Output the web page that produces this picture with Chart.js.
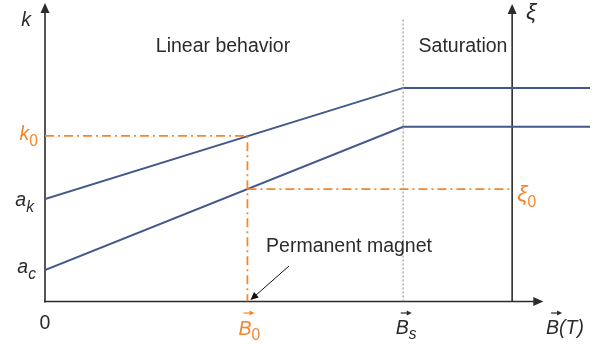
<!DOCTYPE html>
<html>
<head>
<meta charset="utf-8">
<script src="https://cdn.jsdelivr.net/npm/chart.js@4/dist/chart.umd.min.js"></script>
<style>
  html, body { margin: 0; padding: 0; background: #fff; }
  #wrap { width: 606px; height: 345px; }
</style>
</head>
<body>
<div id="wrap"><canvas id="c" width="606" height="345"></canvas></div>
<script>
// Field values B along the horizontal axis
const fieldPoints = [0, 4.6, 7];
// Stiffness-like coefficient k and damping-like coefficient xi vs field
const kCurve = [3.445, 7.18, 7.18];
const xiCurve = [1.06, 5.87, 5.87];
// Operating point and saturation field
const B0 = 2.6;
const Bs = 4.6;
const k0 = 5.57;
const xi0 = 3.78;
// Position of the xi axis along B, and extent of the B axis
const xiAxisAt = 6.0;
const bAxisEnd = 6.4;
// Axis ranges
const xRange = [0, 7];
const yRange = [0, 10];

const BLUE = '#44598a';
const ORANGE = '#f5862a';
const INK = '#2b2b2b';
const FONT = '"Liberation Sans", Arial, Helvetica, sans-serif';

const toPts = (xs, ys) => xs.map((x, i) => ({ x, y: ys[i] }));

// Writes a run of text pieces (normal / italic / subscript) starting at x
function pieceSize(p, size) {
  return (p.size || size) * (p.sub ? 0.8 : 1);
}
function mathWidth(ctx, parts, size) {
  let w = 0;
  for (const p of parts) {
    ctx.font = (p.italic ? 'italic ' : '') + pieceSize(p, size) + 'px ' + FONT;
    w += ctx.measureText(p.t).width + (p.gap || 0);
  }
  return w;
}
function drawMath(ctx, parts, x, y, size, color, align) {
  const w = mathWidth(ctx, parts, size);
  let cx = align === 'right' ? x - w : align === 'center' ? x - w / 2 : x;
  ctx.fillStyle = color;
  ctx.textBaseline = 'alphabetic';
  ctx.textAlign = 'left';
  const spots = [];
  for (const p of parts) {
    ctx.font = (p.italic ? 'italic ' : '') + pieceSize(p, size) + 'px ' + FONT;
    const yy = p.sub ? y + size * 0.3 : y;
    ctx.fillText(p.t, cx, yy);
    const pw = ctx.measureText(p.t).width;
    spots.push({ x: cx, w: pw });
    cx += pw + (p.gap || 0);
  }
  return spots;
}
// Small vector arrow placed above a letter
function vecArrow(ctx, x, y, len, color) {
  ctx.save();
  ctx.strokeStyle = color;
  ctx.fillStyle = color;
  ctx.lineWidth = 1.2;
  ctx.beginPath();
  ctx.moveTo(x, y);
  ctx.lineTo(x + len - 3, y);
  ctx.stroke();
  ctx.beginPath();
  ctx.moveTo(x + len, y);
  ctx.lineTo(x + len - 5, y - 2.6);
  ctx.lineTo(x + len - 5, y + 2.6);
  ctx.closePath();
  ctx.fill();
  ctx.restore();
}
function arrowLine(ctx, x1, y1, x2, y2, head, width, color) {
  const a = Math.atan2(y2 - y1, x2 - x1);
  ctx.save();
  ctx.strokeStyle = color;
  ctx.fillStyle = color;
  ctx.lineWidth = width;
  ctx.beginPath();
  ctx.moveTo(x1, y1);
  ctx.lineTo(x2 - Math.cos(a) * head * 0.8, y2 - Math.sin(a) * head * 0.8);
  ctx.stroke();
  ctx.beginPath();
  ctx.moveTo(x2, y2);
  ctx.lineTo(x2 - head * Math.cos(a) + head * 0.45 * Math.sin(a), y2 - head * Math.sin(a) - head * 0.45 * Math.cos(a));
  ctx.lineTo(x2 - head * Math.cos(a) - head * 0.45 * Math.sin(a), y2 - head * Math.sin(a) + head * 0.45 * Math.cos(a));
  ctx.closePath();
  ctx.fill();
  ctx.restore();
}

// Axes with arrowheads: k on the left, xi on the right, B along the bottom
const axesPlugin = {
  id: 'axes',
  beforeDatasetsDraw(chart) {
    const { ctx, scales: { x, y } } = chart;
    const x0 = x.getPixelForValue(0);
    const y0 = y.getPixelForValue(0);
    const yTop = y.getPixelForValue(yRange[1]);
    const xr = x.getPixelForValue(xiAxisAt);
    const xEnd = x.getPixelForValue(bAxisEnd);
    arrowLine(ctx, x0, y0 + 1, x0, yTop - 1, 10, 1.6, INK);
    arrowLine(ctx, xr, y0, xr, yTop, 10, 1.6, INK);
    arrowLine(ctx, x0 - 1, y0, xEnd, y0, 10, 1.6, INK);
  }
};

// Axis names, tick symbols, region titles and the magnet callout
const labelsPlugin = {
  id: 'labels',
  afterDatasetsDraw(chart) {
    const { ctx, scales: { x, y } } = chart;
    const px = v => x.getPixelForValue(v);
    const py = v => y.getPixelForValue(v);
    const S = 19.5;
    ctx.save();
    // axis names
    drawMath(ctx, [{ t: 'k', italic: true }], 26, 26, S, INK, 'center');
    drawMath(ctx, [{ t: 'ξ', italic: true, size: 23 }], px(xiAxisAt) + 19, 19, S, INK, 'center');
    // left tick symbols
    drawMath(ctx, [{ t: 'k', italic: true }, { t: '0', sub: true }], px(0) - 7, py(k0) + 4, S, ORANGE, 'right');
    drawMath(ctx, [{ t: 'a', italic: true }, { t: 'k', italic: true, sub: true }], px(0) - 11, py(kCurve[0]) + 7, S, INK, 'right');
    drawMath(ctx, [{ t: 'a', italic: true }, { t: 'c', italic: true, sub: true }], px(0) - 9, py(xiCurve[0]) + 3, S, INK, 'right');
    drawMath(ctx, [{ t: '0' }], px(0), py(0) + 27, S, INK, 'center');
    // right tick symbol
    drawMath(ctx, [{ t: 'ξ', italic: true, size: 23 }, { t: '0', sub: true }], px(xiAxisAt) + 5, py(xi0) + 12, S, ORANGE, 'left');
    // B-axis symbols with vector arrows
    let s = drawMath(ctx, [{ t: 'B', italic: true }, { t: '0', sub: true }], px(B0) + 2, py(0) + 33, S, ORANGE, 'center');
    vecArrow(ctx, s[0].x + 5, py(0) + 11.5, 11, ORANGE);
    s = drawMath(ctx, [{ t: 'B', italic: true }, { t: 's', italic: true, sub: true }], px(Bs) + 3, py(0) + 32, S, INK, 'center');
    vecArrow(ctx, s[0].x + 5, py(0) + 11.5, 11, INK);
    s = drawMath(ctx, [{ t: 'B', italic: true }, { t: '(T)', italic: true }], 565, py(0) + 32, S, INK, 'center');
    vecArrow(ctx, s[0].x + 5, py(0) + 11.5, 11, INK);
    // region titles
    drawMath(ctx, [{ t: 'Linear behavior' }], 223, 52, S, INK, 'center');
    drawMath(ctx, [{ t: 'Saturation' }], 463, 52, S, INK, 'center');
    // callout
    drawMath(ctx, [{ t: 'Permanent magnet' }], 349, 252, S, INK, 'center');
    arrowLine(ctx, 289, 266, px(B0) + 3, py(0) - 1.5, 8, 1, '#111');
    ctx.restore();
  }
};

new Chart(document.getElementById('c'), {
  type: 'scatter',
  data: {
    datasets: [
      {
        label: 'Bs',
        data: toPts([Bs, Bs], [0, 9.5]),
        showLine: true,
        borderColor: '#a3a38c',
        borderWidth: 1.3,
        borderDash: [2, 2],
        pointRadius: 0
      },
      {
        label: 'k0',
        data: toPts([0, B0, B0], [k0, k0, 0]),
        showLine: true,
        borderColor: ORANGE,
        borderWidth: 1.8,
        borderDash: [9, 4, 2, 4],
        pointRadius: 0
      },
      {
        label: 'xi0',
        data: toPts([B0, xiAxisAt], [xi0, xi0]),
        showLine: true,
        borderColor: ORANGE,
        borderWidth: 1.8,
        borderDash: [9, 4, 2, 4],
        pointRadius: 0
      },
      {
        label: 'k',
        data: toPts(fieldPoints, kCurve),
        showLine: true,
        borderColor: BLUE,
        borderWidth: 2,
        pointRadius: 0,
        tension: 0
      },
      {
        label: 'xi',
        data: toPts(fieldPoints, xiCurve),
        showLine: true,
        borderColor: BLUE,
        borderWidth: 2,
        pointRadius: 0,
        tension: 0
      }
    ]
  },
  options: {
    responsive: false,
    animation: false,
    layout: { padding: { left: 45, right: 16, top: 4, bottom: 43.5 } },
    scales: {
      x: { type: 'linear', min: xRange[0], max: xRange[1], display: false },
      y: { type: 'linear', min: yRange[0], max: yRange[1], display: false }
    },
    plugins: {
      legend: { display: false },
      tooltip: { enabled: false }
    }
  },
  plugins: [axesPlugin, labelsPlugin]
});
</script>
</body>
</html>
